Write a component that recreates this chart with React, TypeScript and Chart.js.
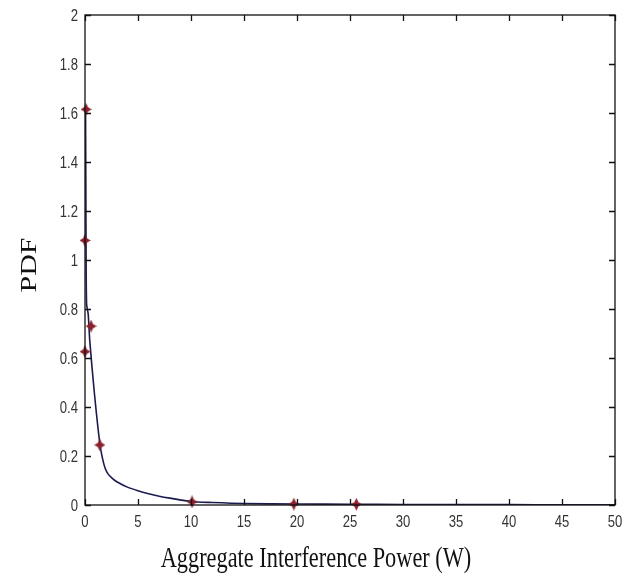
import React, { useEffect, useRef } from "react";
import { Chart, registerables } from "chart.js";

Chart.register(...registerables);

// Analytical PDF curve (x in W, y = PDF)
const curveX = [0.05, 0.08, 0.1, 0.15, 0.3, 0.45, 0.9, 1.4, 1.65, 1.9, 2.2, 2.6, 3, 4, 5, 6, 7, 8, 10, 12, 15, 20, 25, 30, 35, 40, 45, 50];
const curveY = [1.62, 1.3, 1.05, 0.82, 0.78, 0.67, 0.45, 0.25, 0.19, 0.15, 0.125, 0.108, 0.095, 0.073, 0.058, 0.046, 0.036, 0.028, 0.014, 0.01, 0.006, 0.004, 0.003, 0.002, 0.002, 0.0015, 0.001, 0.001];

// Simulated points (markers)
const markerX = [0.1, 0, 0.57, 0, 1.4, 10.1, 19.7, 25.6];
const markerY = [1.615, 1.08, 0.73, 0.626, 0.245, 0.013, 0.004, 0.003];

const xTicks = [0, 5, 10, 15, 20, 25, 30, 35, 40, 45, 50];
const yTicks = [0, 0.2, 0.4, 0.6, 0.8, 1, 1.2, 1.4, 1.6, 1.8, 2];
const yTickLabels = ["0", "0.2", "0.4", "0.6", "0.8", "1", "1.2", "1.4", "1.6", "1.8", "2"];

const xTitle = "Aggregate Interference Power (W)";
const yTitle = "PDF";

const SQUEEZE = 0.77; // horizontal squeeze of the original picture's text
const TICK_FONT = "17px 'Liberation Sans', Arial, sans-serif";
const TITLE_FONT = "29px 'Liberation Serif', 'Times New Roman', serif";
const YTITLE_FONT = "30px 'Liberation Serif', 'Times New Roman', serif";

function makeStar(color: string): HTMLCanvasElement {
  const c = document.createElement("canvas");
  const w = 11;
  const h = 13;
  c.width = w;
  c.height = h;
  const ctx = c.getContext("2d")!;
  const mx = w / 2;
  const my = h / 2;
  const kx = 1.9;
  const ky = 2.2;
  ctx.fillStyle = color;
  ctx.beginPath();
  ctx.moveTo(mx, 0);
  ctx.lineTo(mx + kx, my - ky);
  ctx.lineTo(w, my);
  ctx.lineTo(mx + kx, my + ky);
  ctx.lineTo(mx, h);
  ctx.lineTo(mx - kx, my + ky);
  ctx.lineTo(0, my);
  ctx.lineTo(mx - kx, my - ky);
  ctx.closePath();
  ctx.fill();
  return c;
}

function squeezedText(ctx: any, text: string, x: number, y: number, align: string, baseline: string, font: string, color: string, rotate = 0) {
  ctx.save();
  ctx.translate(x, y);
  if (rotate) ctx.rotate(rotate);
  if (rotate) ctx.scale(1, SQUEEZE);
  else ctx.scale(SQUEEZE, 1);
  ctx.font = font;
  ctx.fillStyle = color;
  ctx.textAlign = align;
  ctx.textBaseline = baseline;
  ctx.fillText(text, 0, 0);
  ctx.restore();
}

const framePlugin = {
  id: "matlabFrame",
  afterDatasetsDraw(chart: any) {
    const { ctx, chartArea } = chart;
    const { left, right, top, bottom } = chartArea;
    const xs = chart.scales.x;
    const ys = chart.scales.y;
    const len = 6;
    ctx.save();
    ctx.strokeStyle = "#111";
    ctx.lineWidth = 1.3;
    ctx.strokeRect(left, top, right - left, bottom - top);
    ctx.beginPath();
    xTicks.forEach((v) => {
      const px = Math.round(xs.getPixelForValue(v)) + 0.5;
      ctx.moveTo(px, bottom);
      ctx.lineTo(px, bottom - len);
      ctx.moveTo(px, top);
      ctx.lineTo(px, top + len);
    });
    yTicks.forEach((v) => {
      const py = Math.round(ys.getPixelForValue(v)) + 0.5;
      ctx.moveTo(left, py);
      ctx.lineTo(left + len, py);
      ctx.moveTo(right, py);
      ctx.lineTo(right - len, py);
    });
    ctx.stroke();
    ctx.restore();

    // tick labels
    xTicks.forEach((v) => {
      const px = xs.getPixelForValue(v);
      squeezedText(ctx, String(v), px, bottom + 17, "center", "middle", TICK_FONT, "#333");
    });
    yTicks.forEach((v, i) => {
      const py = ys.getPixelForValue(v);
      squeezedText(ctx, yTickLabels[i], left - 7, py + 1, "right", "middle", TICK_FONT, "#333");
    });
    // axis titles
    squeezedText(ctx, xTitle, 316, 567, "center", "alphabetic", TITLE_FONT, "#111");
    squeezedText(ctx, yTitle, 36, 265, "center", "alphabetic", YTITLE_FONT, "#111", -Math.PI / 2);
  },
};

export default function App() {
  const ref = useRef<HTMLCanvasElement>(null);

  useEffect(() => {
    if (!ref.current) return;
    const star = makeStar("#8a1f2e");
    const chart = new Chart(ref.current, {
      type: "scatter",
      data: {
        datasets: [
          {
            label: "Analytical",
            data: curveX.map((x, i) => ({ x, y: curveY[i] })),
            showLine: true,
            borderColor: "#1b1b50",
            borderWidth: 1.6,
            pointRadius: 0,
            tension: 0.25,
            order: 2,
          },
          {
            label: "Simulation",
            data: markerX.map((x, i) => ({ x, y: markerY[i] })),
            showLine: false,
            pointStyle: star as any,
            pointRadius: 6,
            order: 1,
            clip: false as any,
          },
        ],
      },
      options: {
        responsive: false,
        animation: false,
        layout: { padding: { top: 15, right: 18, left: 0, bottom: 0 } },
        plugins: {
          legend: { display: false },
          tooltip: { enabled: false },
        },
        scales: {
          x: {
            type: "linear",
            min: 0,
            max: 50,
            afterFit: (s: any) => {
              s.height = 72;
            },
            grid: { display: false, drawTicks: false },
            border: { display: false },
            ticks: { display: false, stepSize: 5 },
            title: { display: false, text: xTitle },
          },
          y: {
            type: "linear",
            min: 0,
            max: 2,
            afterFit: (s: any) => {
              s.width = 85;
            },
            grid: { display: false, drawTicks: false },
            border: { display: false },
            ticks: { display: false, stepSize: 0.2 },
            title: { display: false, text: yTitle },
          },
        },
      },
      plugins: [framePlugin],
    });
    return () => chart.destroy();
  }, []);

  return (
    <div style={{ position: "fixed", left: 0, top: 0, width: 633, height: 577, background: "#fff" }}>
      <canvas ref={ref} width={633} height={577} />
    </div>
  );
}
